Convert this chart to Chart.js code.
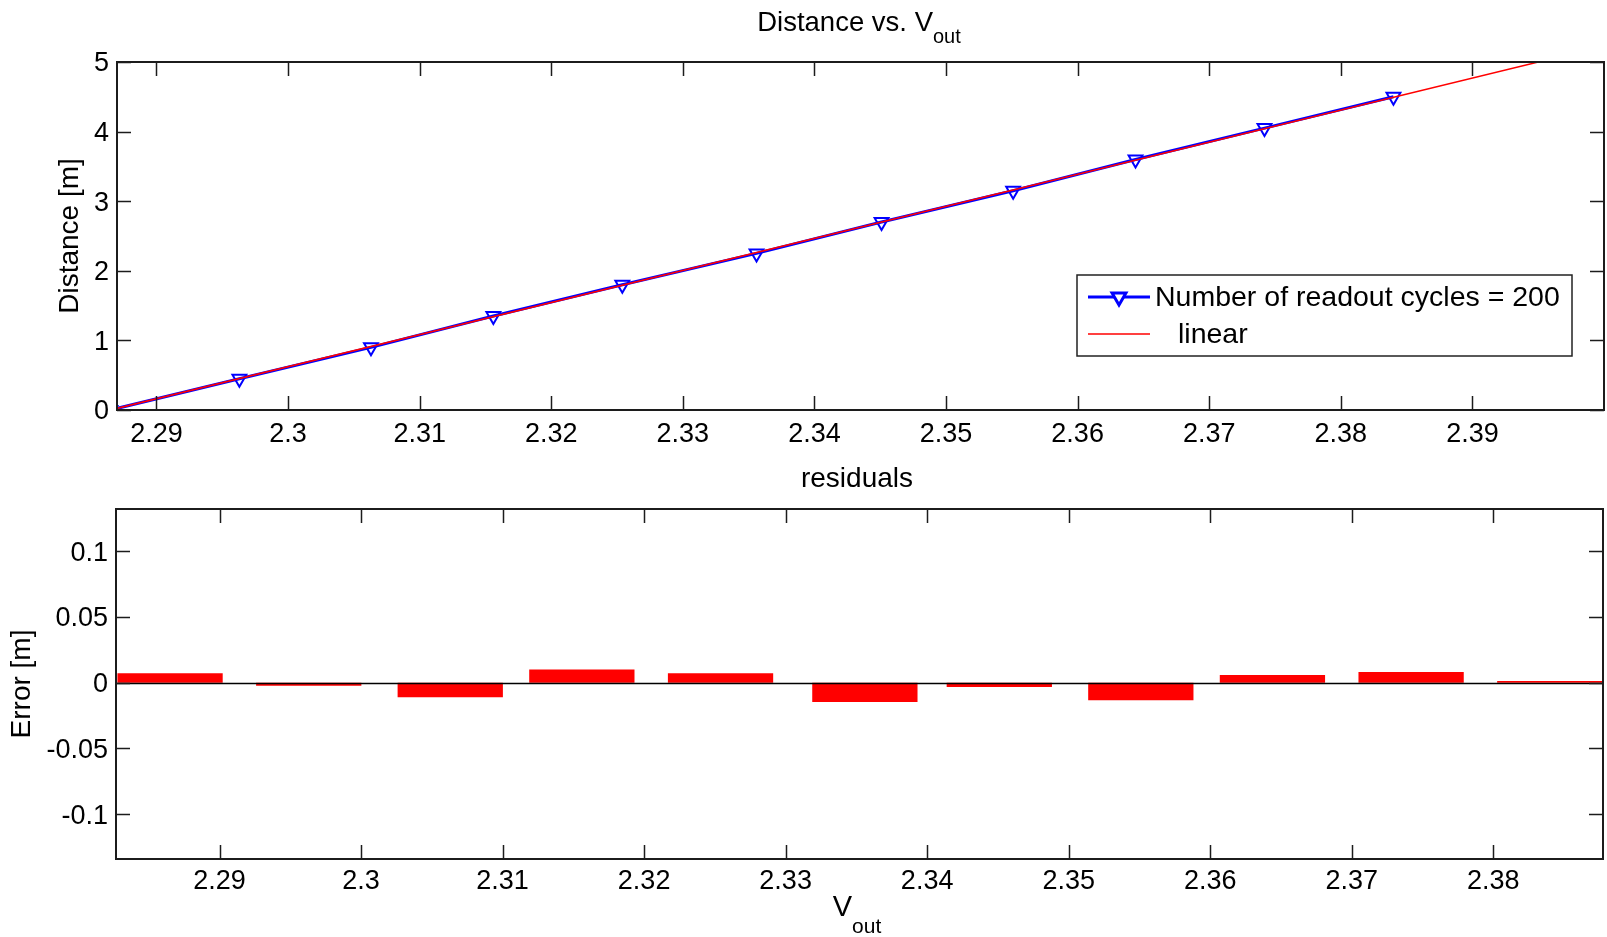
<!DOCTYPE html>
<html>
<head>
<meta charset="utf-8">
<script src="https://cdn.jsdelivr.net/npm/chart.js@4.4.0/dist/chart.umd.min.js"></script>
<style>
html, body { margin: 0; padding: 0; background: #ffffff; }
#page { position: relative; width: 1607px; height: 937px; overflow: hidden; }
#distance_chart { position: absolute; left: 0; top: 0; }
#residual_chart { position: absolute; left: 0; top: 460px; }
</style>
</head>
<body>
<div id="page">
    <canvas id="distance_chart" width="1607" height="460"></canvas>
    <canvas id="residual_chart" width="1607" height="477"></canvas>
</div>
<script>
const voltage = [2.2865, 2.2963, 2.3063, 2.3156, 2.3254, 2.3356, 2.3451, 2.3551, 2.3644, 2.3742, 2.3840];
const distance = [0, 0.45, 0.9, 1.35, 1.8, 2.25, 2.7, 3.15, 3.6, 4.05, 4.5];
const residual = [0.0071, -0.0023, -0.0111, 0.0101, 0.0071, -0.0147, -0.0033, -0.0134, 0.0058, 0.0081, 0.0013];

// linear fit, two end points
const fit_voltage = [2.2865, 2.4];
const fit_distance = [0, 5.23];

const distance_x_ticks = [2.29, 2.3, 2.31, 2.32, 2.33, 2.34, 2.35, 2.36, 2.37, 2.38, 2.39];
const distance_y_ticks = [0, 1, 2, 3, 4, 5];
const residual_x_ticks = [2.29, 2.3, 2.31, 2.32, 2.33, 2.34, 2.35, 2.36, 2.37, 2.38];
const residual_y_ticks = [-0.1, -0.05, 0, 0.05, 0.1];

const series_label = "Number of readout cycles = 200";
const fit_label = "linear";

const font_family = "'Liberation Sans', Arial, Helvetica, sans-serif";
const axis_colour = "#1c1c1c";
Chart.defaults.font.family = font_family;
Chart.defaults.color = "#000000";

function fixTicks(values){
    return function(scale){
        scale.ticks = values.map(v => ({ value: v }));
    };
}

function fixHeight(height){
    return function(scale){
        scale.height = height;
        scale.paddingLeft = 0;
        scale.paddingRight = 0;
    };
}

// draws the matlab style box with inward ticks on every side
const matlab_box = {
    id: "matlab_box",
    afterDraw(chart){
        const ctx = chart.ctx;
        const area = chart.chartArea;
        const x_scale = chart.scales.x;
        const y_scale = chart.scales.y;
        const tick_len = 14;
        ctx.save();
        ctx.strokeStyle = axis_colour;
        ctx.lineWidth = 1.5;
        ctx.beginPath();
        for (const tick of x_scale.ticks){
            const px = Math.round(x_scale.getPixelForValue(tick.value)) + 0.5;
            ctx.moveTo(px, area.bottom);
            ctx.lineTo(px, area.bottom - tick_len);
            ctx.moveTo(px, area.top);
            ctx.lineTo(px, area.top + tick_len);
        }
        for (const tick of y_scale.ticks){
            const py = Math.round(y_scale.getPixelForValue(tick.value)) + 0.5;
            ctx.moveTo(area.left, py);
            ctx.lineTo(area.left + tick_len, py);
            ctx.moveTo(area.right, py);
            ctx.lineTo(area.right - tick_len, py);
        }
        ctx.stroke();
        ctx.lineWidth = 2;
        ctx.strokeRect(area.left, area.top, area.right - area.left, area.bottom - area.top);
        ctx.restore();
    }
};

function drawSubText(ctx, main_text, sub_text, centre_x, baseline, main_size, sub_size, sub_drop){
    ctx.font = main_size + "px " + font_family;
    let main_width = ctx.measureText(main_text).width;
    ctx.font = sub_size + "px " + font_family;
    let sub_width = ctx.measureText(sub_text).width;
    let start_x = centre_x - (main_width + sub_width) / 2;
    ctx.textAlign = "left";
    ctx.textBaseline = "alphabetic";
    ctx.font = main_size + "px " + font_family;
    ctx.fillText(main_text, start_x, baseline);
    ctx.font = sub_size + "px " + font_family;
    ctx.fillText(sub_text, start_x + main_width, baseline + sub_drop);
}

function drawRotated(ctx, text, x, y, size){
    ctx.save();
    ctx.translate(x, y);
    ctx.rotate(-Math.PI / 2);
    ctx.font = size + "px " + font_family;
    ctx.textAlign = "center";
    ctx.textBaseline = "middle";
    ctx.fillText(text, 0, 0);
    ctx.restore();
}

const distance_text = {
    id: "distance_text",
    afterDraw(chart){
        const ctx = chart.ctx;
        ctx.save();
        ctx.fillStyle = "#000000";
        drawSubText(ctx, "Distance vs. V", "out", 859, 31, 27.5, 20, 12);
        drawRotated(ctx, "Distance [m]", 70, 236, 28);

        // legend box inside the axes
        const box = { left: 1077, top: 275, right: 1572, bottom: 356 };
        ctx.fillStyle = "#ffffff";
        ctx.fillRect(box.left, box.top, box.right - box.left, box.bottom - box.top);
        ctx.strokeStyle = "#222222";
        ctx.lineWidth = 1.5;
        ctx.strokeRect(box.left, box.top, box.right - box.left, box.bottom - box.top);

        const sets = chart.data.datasets;
        // row 1: measured series
        ctx.strokeStyle = sets[0].borderColor;
        ctx.lineWidth = sets[0].borderWidth;
        ctx.beginPath();
        ctx.moveTo(1088, 297);
        ctx.lineTo(1150, 297);
        ctx.stroke();
        Chart.helpers.drawPoint(ctx, {
            pointStyle: "triangle", rotation: 180, radius: sets[0].pointRadius,
            borderWidth: sets[0].pointBorderWidth
        }, 1119, 297);
        ctx.fillStyle = "#000000";
        ctx.font = "28.5px " + font_family;
        ctx.textAlign = "left";
        ctx.textBaseline = "middle";
        ctx.fillText(sets[0].label, 1155, 298);
        // row 2: fit line
        ctx.strokeStyle = sets[1].borderColor;
        ctx.lineWidth = sets[1].borderWidth;
        ctx.beginPath();
        ctx.moveTo(1088, 334);
        ctx.lineTo(1150, 334);
        ctx.stroke();
        ctx.fillText(sets[1].label, 1178, 335);
        ctx.restore();
    }
};

const residual_text = {
    id: "residual_text",
    afterDatasetsDraw(chart){
        // zero base line of the bars
        const ctx = chart.ctx;
        const area = chart.chartArea;
        const py = Math.round(chart.scales.y.getPixelForValue(0)) + 0.5;
        ctx.save();
        ctx.strokeStyle = "#000000";
        ctx.lineWidth = 1.5;
        ctx.beginPath();
        ctx.moveTo(area.left, py);
        ctx.lineTo(area.right, py);
        ctx.stroke();
        ctx.restore();
    },
    afterDraw(chart){
        const ctx = chart.ctx;
        ctx.save();
        ctx.fillStyle = "#000000";
        ctx.font = "28px " + font_family;
        ctx.textAlign = "center";
        ctx.textBaseline = "alphabetic";
        ctx.fillText("residuals", 857, 27);
        drawSubText(ctx, "V", "out", 857, 456, 29, 21, 17);
        drawRotated(ctx, "Error [m]", 22, 224, 28);
        ctx.restore();
    }
};

function tickLabel(value){
    return String(value);
}

var distance_data = {
    datasets: [{
        label: series_label,
        data: voltage.map((v, i) => ({ x: v, y: distance[i] })),
        borderColor: "#0000ff",
        borderWidth: 3,
        pointStyle: "triangle",
        rotation: 180,
        pointRadius: 8,
        pointBorderWidth: 2,
        pointBorderColor: "#0000ff",
        pointBackgroundColor: "rgba(0,0,0,0)",
        clip: 0,
        order: 1
    },{
        label: fit_label,
        data: fit_voltage.map((v, i) => ({ x: v, y: fit_distance[i] })),
        borderColor: "#ff0000",
        borderWidth: 1.5,
        pointRadius: 0,
        clip: 0,
        order: 0
    }]
};

var distance_options = {
    responsive: false,
    animation: false,
    layout: { autoPadding: false, padding: { left: 0, right: 3, top: 62, bottom: 0 } },
    plugins: { legend: { display: false }, tooltip: { enabled: false } },
    scales: {
        x: {
            type: "linear",
            min: 2.287,
            max: 2.4,
            grid: { display: false, drawTicks: false },
            border: { display: false },
            afterBuildTicks: fixTicks(distance_x_ticks),
            afterFit: fixHeight(50),
            ticks: { font: { size: 27 }, padding: 8, maxRotation: 0, autoSkip: false, callback: tickLabel }
        },
        y: {
            min: 0,
            max: 5,
            grid: { display: false, drawTicks: false },
            border: { display: false },
            afterBuildTicks: fixTicks(distance_y_ticks),
            afterFit: function(scale){ scale.width = 117; },
            ticks: { font: { size: 27 }, padding: 8, labelOffset: 2, callback: tickLabel }
        }
    }
};

var residual_data = {
    datasets: [{
        label: "residuals",
        data: voltage.map((v, i) => ({ x: v, y: residual[i] })),
        backgroundColor: "#ff0000",
        borderWidth: 0,
        categoryPercentage: 0.8,
        barPercentage: 1.0
    }]
};

var residual_options = {
    responsive: false,
    animation: false,
    layout: { autoPadding: false, padding: { left: 0, right: 4, top: 49, bottom: 0 } },
    plugins: { legend: { display: false }, tooltip: { enabled: false } },
    scales: {
        x: {
            type: "linear",
            offset: false,
            min: 2.28268,
            max: 2.38776,
            grid: { display: false, drawTicks: false, offset: false },
            border: { display: false },
            afterBuildTicks: fixTicks(residual_x_ticks),
            afterFit: fixHeight(78),
            ticks: { font: { size: 27 }, padding: 6, maxRotation: 0, autoSkip: false, callback: tickLabel }
        },
        y: {
            min: -0.134,
            max: 0.132,
            grid: { display: false, drawTicks: false },
            border: { display: false },
            afterBuildTicks: fixTicks(residual_y_ticks),
            afterFit: function(scale){ scale.width = 116; },
            ticks: { font: { size: 27 }, padding: 8, labelOffset: 2, callback: tickLabel }
        }
    }
};

var distance_chart = new Chart(document.getElementById("distance_chart").getContext("2d"), {
    type: "line",
    data: distance_data,
    options: distance_options,
    plugins: [matlab_box, distance_text]
});

var residual_chart = new Chart(document.getElementById("residual_chart").getContext("2d"), {
    type: "bar",
    data: residual_data,
    options: residual_options,
    plugins: [matlab_box, residual_text]
});
</script>
</body>
</html>
